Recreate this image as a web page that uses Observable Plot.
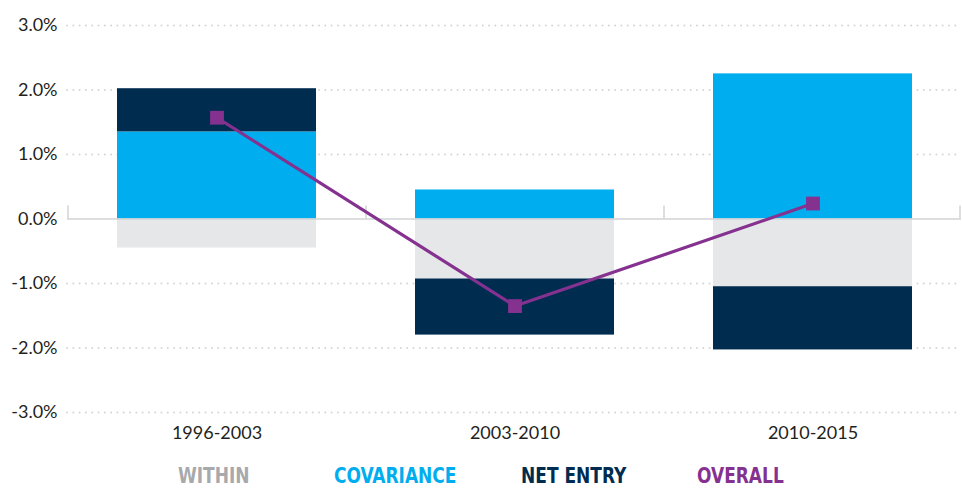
<!DOCTYPE html>
<html><head><meta charset="utf-8">
<script src="https://cdn.jsdelivr.net/npm/d3@7"></script>
<script src="https://cdn.jsdelivr.net/npm/@observablehq/plot@0.6"></script>
<style>
body{margin:0;background:#fff;}
#chart{width:962px;height:448px;}
#legend{position:relative;width:962px;height:40px;font-family:"Liberation Sans Narrow","DejaVu Sans Condensed",sans-serif;font-weight:bold;font-size:22px;}
#legend span{position:absolute;top:17px;line-height:22px;white-space:nowrap;transform:scaleX(0.86);transform-origin:left center;}
</style></head><body>
<div id="chart"></div><div id="legend"></div>
<script>
const periods = ["1996-2003", "2003-2010", "2010-2015"];
const seriesNames = ["WITHIN", "COVARIANCE", "NET ENTRY"];
const within = [-0.45, -0.93, -1.05];
const covariance = [1.35, 0.45, 2.25];
const netEntry = [0.67, -0.87, -0.98];
const overall = [1.57, -1.35, 0.24];
const yTicks = [-3, -2, -1, 0, 1, 2, 3];
const barColors = ["#e6e7e8", "#00adee", "#002c50"];
const overallColor = "#85318f";
const legendItems = [
  {name: "WITHIN", color: "#a7a9ac", left: 178},
  {name: "COVARIANCE", color: "#00adee", left: 334},
  {name: "NET ENTRY", color: "#002c50", left: 521},
  {name: "OVERALL", color: "#85318f", left: 697}
];

const barData = [];
periods.forEach((p, i) => {
  barData.push({period: p, series: seriesNames[0], value: within[i]});
  barData.push({period: p, series: seriesNames[1], value: covariance[i]});
  barData.push({period: p, series: seriesNames[2], value: netEntry[i]});
});
const lineData = periods.map((p, i) => ({period: p, value: overall[i]}));

const common = {
  width: 962, height: 448,
  marginLeft: 67, marginRight: 1, marginTop: 25, marginBottom: 36,
  x: {domain: periods, paddingInner: 1/3, paddingOuter: 1/6, label: null},
  y: {domain: [-3, 3], label: null},
  color: {domain: seriesNames, range: barColors},
  style: {fontFamily: "Lato, 'Open Sans', sans-serif", fontSize: "18px", color: "#231f20", background: "#fff"}
};
const probe = Plot.plot({...common, marks: [Plot.ruleY([0])]});
const step = probe.scale("x").step;

const chart = Plot.plot({
  ...common,
  marks: [
    Plot.ruleY(yTicks.filter(d => d !== 0), {stroke: "#d4d5d7", strokeWidth: 2, strokeDasharray: "0,6.3", strokeLinecap: "round"}),
    Plot.barY(barData, {x: "period", y: "value", fill: "series", order: seriesNames}),
    Plot.ruleY([0], {stroke: "#d1d3d4", strokeWidth: 1.5}),
    Plot.ruleX(periods, {x: d => d, y1: 0, y2: 0.2, dx: -step / 2, stroke: "#d1d3d4", strokeWidth: 1.5}),
    Plot.ruleX([periods[periods.length - 1]], {x: d => d, y1: 0, y2: 0.2, dx: step / 2 - 2, stroke: "#d1d3d4", strokeWidth: 1.5}),
    Plot.line(lineData, {x: "period", y: "value", stroke: overallColor, strokeWidth: 3.2}),
    Plot.dot(lineData, {x: "period", y: "value", symbol: "square", r: 7.8, fill: overallColor, stroke: null}),
    Plot.axisY(yTicks, {tickSize: 0, tickPadding: 10, tickFormat: d => d.toFixed(1) + "%", fill: "#231f20", label: null}),
    Plot.axisX({tickSize: 0, tickPadding: 14, label: null, fill: "#231f20"})
  ]
});
document.getElementById("chart").appendChild(chart);

const legend = document.getElementById("legend");
legendItems.forEach(it => {
  const s = document.createElement("span");
  s.textContent = it.name;
  s.style.color = it.color;
  s.style.left = it.left + "px";
  legend.appendChild(s);
});
</script>
</body></html>
